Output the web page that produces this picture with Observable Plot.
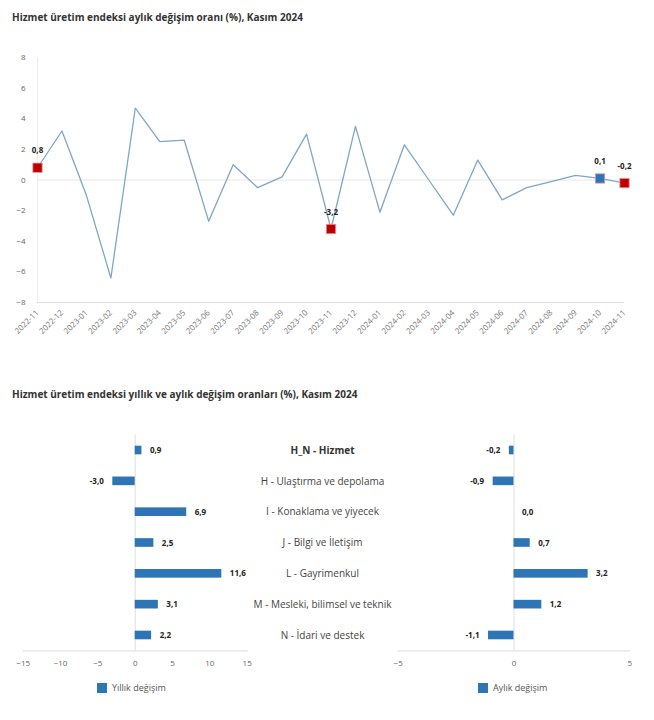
<!DOCTYPE html>
<html><head><meta charset="utf-8">
<script src="https://cdn.jsdelivr.net/npm/d3@7"></script>
<script src="https://cdn.jsdelivr.net/npm/@observablehq/plot@0.6"></script>
<style>
body{margin:0;background:#fff;font-family:"Open Sans",sans-serif;}
#wrap{position:relative;width:654px;height:720px;overflow:hidden;background:#fff;}
.abs{position:absolute;}
.title{font-weight:bold;font-size:10px;color:#333;white-space:nowrap;}
.leg{font-size:9px;color:#555;display:flex;align-items:center;white-space:nowrap;}
.sw{width:10px;height:10px;background:#2e75b6;margin-right:5px;display:inline-block;}
svg{overflow:visible;}
</style></head><body><div id="wrap">
<div class="abs title" style="left:12px;top:10px;">Hizmet üretim endeksi aylık değişim oranı (%), Kasım 2024</div>
<div class="abs" id="top" style="left:0;top:40px;"></div>
<div class="abs title" style="left:12px;top:387px;">Hizmet üretim endeksi yıllık ve aylık değişim oranları (%), Kasım 2024</div>
<div class="abs" id="left" style="left:0;top:400px;"></div>
<div class="abs" id="right" style="left:250px;top:400px;"></div>
<div class="abs leg" style="left:97px;top:681px;"><span class="sw"></span>Yıllık değişim</div>
<div class="abs leg" style="left:478px;top:681px;"><span class="sw"></span>Aylık değişim</div>
</div>
<script>
const months = ["2022-11","2022-12","2023-01","2023-02","2023-03","2023-04","2023-05","2023-06","2023-07","2023-08","2023-09","2023-10","2023-11","2023-12","2024-01","2024-02","2024-03","2024-04","2024-05","2024-06","2024-07","2024-08","2024-09","2024-10","2024-11"];
const monthlyRate = [0.8, 3.2, -1.0, -6.4, 4.7, 2.5, 2.6, -2.7, 1.0, -0.5, 0.2, 3.0, -3.2, 3.5, -2.1, 2.3, 0.0, -2.3, 1.3, -1.3, -0.5, -0.1, 0.3, 0.1, -0.2];
const redMonths = ["2022-11","2023-11","2024-11"];
const blueMonths = ["2024-10"];
const yTicks = [-8,-6,-4,-2,0,2,4,6,8];

const sectors = ["H_N - Hizmet","H - Ulaştırma ve depolama","I - Konaklama ve yiyecek","J - Bilgi ve İletişim","L - Gayrimenkul","M - Mesleki, bilimsel ve teknik","N - İdari ve destek"];
const annualChange = [0.9, -3.0, 6.9, 2.5, 11.6, 3.1, 2.2];
const monthlyChange = [-0.2, -0.9, 0.0, 0.7, 3.2, 1.2, -1.1];
const leftTicks = [-15,-10,-5,0,5,10,15];
const rightTicks = [-5,0,5];

const fmt = v => v.toFixed(1).replace(".", ",");
const RED = "#c00000", BLUE = "#2e75b6";
const font = {fontFamily:"Open Sans", fontSize:"8px", color:"#666", background:"transparent"};

const lineData = months.map((m,i)=>({m, v: monthlyRate[i]}));
const markers = lineData.filter(d => redMonths.includes(d.m) || blueMonths.includes(d.m))
  .map(d => ({...d, c: blueMonths.includes(d.m) ? BLUE : RED}));

const topChart = Plot.plot({
  width:654, height:320, marginTop:17, marginBottom:58, marginLeft:37, marginRight:30,
  style: font,
  x: {type:"point", domain: months, padding:0, round:false, label:null},
  y: {domain:[-8,8], label:null},
  marks: [
    Plot.ruleY([0], {stroke:"#e8e8e8"}),
    Plot.ruleY([-8], {stroke:"#dcdcdc"}),
    Plot.ruleX([months[0]], {stroke:"#ececec"}),
    Plot.axisY(yTicks, {tickSize:0, tickPadding:12, fill:"#666", fontSize:8}),
    Plot.axisX({tickSize:0, tickRotate:-45, tickPadding:9, fill:"#777", fontSize:8}),
    Plot.line(lineData, {x:"m", y:"v", stroke:"#7ea6c8", strokeWidth:1.3}),
    Plot.dot(markers, {x:"m", y:"v", symbol:"square", r:5.3, fill:"c", stroke:"#e0a0a0", strokeWidth:0.8}),
    Plot.text(markers, {x:"m", y:"v", text: d=>fmt(d.v), dy:-17, fontWeight:"bold", fill:"#222", fontSize:8})
  ]
});
document.getElementById("top").appendChild(topChart);

function barChart(values, ticks, domain, opts){
  const data = sectors.map((s,i)=>({s, v: values[i]}));
  const marks = [
    Plot.ruleX([0], {stroke:"#dedede"}),
    Plot.frame({anchor:"bottom", stroke:"#dcdcdc"}),
    Plot.barX(data, {x:"v", y:"s", fill:BLUE}),
    Plot.text(data.filter(d=>d.v>=0), {x:"v", y:"s", text:d=>fmt(d.v), dx:8, textAnchor:"start", fontWeight:"bold", fill:"#222", fontSize:8}),
    Plot.text(data.filter(d=>d.v<0), {x:"v", y:"s", text:d=>fmt(d.v), dx:-9, textAnchor:"end", fontWeight:"bold", fill:"#222", fontSize:8}),
    Plot.axisX(ticks, {tickSize:0, tickPadding:9, fill:"#666", fontSize:8, label:null})
  ];
  if (opts.labels) {
    marks.push(Plot.text(data.slice(0,1), {y:"s", frameAnchor:"left", dx:opts.labelDx, text:"s", textAnchor:"middle",
      fontSize:10, fill:"#333", fontWeight:"bold"}));
    marks.push(Plot.text(data.slice(1), {y:"s", frameAnchor:"left", dx:opts.labelDx, text:"s", textAnchor:"middle",
      fontSize:10, fill:"#444"}));
  }
  return Plot.plot({
    width: opts.width, height:300, marginTop:34.6, marginBottom:49.6,
    marginLeft: opts.ml, marginRight: opts.mr,
    style: font,
    x: {domain, label:null},
    y: {type:"band", domain: sectors, paddingInner:0.72, paddingOuter:0.36, round:false, axis:null},
    marks
  });
}
document.getElementById("left").appendChild(barChart(annualChange, leftTicks, [-15,15], {width:260, ml:22.7, mr:13.3}));
document.getElementById("right").appendChild(barChart(monthlyChange, rightTicks, [-5,5], {width:404, ml:147.7, mr:24.7, labels:true, labelDx:-75.7}));
</script>
</body></html>
